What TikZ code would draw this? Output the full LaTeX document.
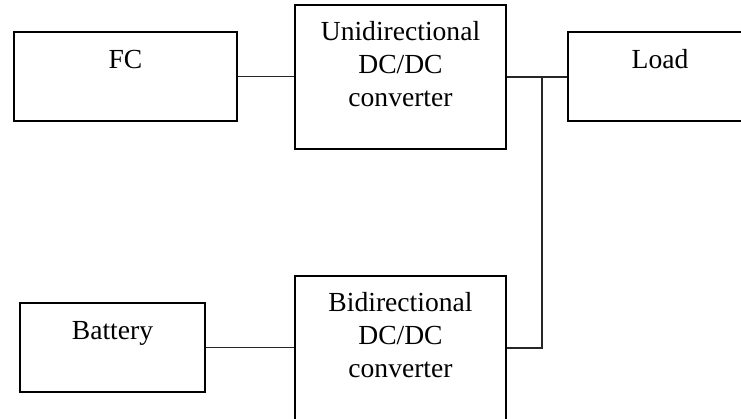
\documentclass[tikz,border=0pt]{standalone}
\usepackage{fontspec}
\setmainfont{Liberation Serif}
\begin{document}
\begin{tikzpicture}[x=0.02cm, y=-0.02cm,
    every node/.style={font=\fontsize{15.7}{18.8}\selectfont},
    unitbox/.style={draw, line width=0.6pt, minimum height=1.78cm, inner sep=0pt},
    convbox/.style={draw, line width=0.6pt, minimum width=4.22cm,
                    minimum height=2.88cm, inner sep=0pt},
    caption/.style={anchor=base, align=center, inner sep=0pt},
    wire/.style={line width=0.6pt, black!85}]
  \useasboundingbox (0,0) rectangle (741,419);
  \clip (0,0) rectangle (741,419);
  % top row
  \node[unitbox, minimum width=4.46cm] (fc) at (125.5,76.5) {};
  \node[caption] (fc-t) at ([yshift=-0.75cm]fc.north) {FC};
  \node[convbox] (uni) at (400.5,77) {};
  % base of a multi-line caption is its last line
  \node[caption] (uni-t) at ([yshift=-2.04cm]uni.north)
      {Unidirectional\\DC/DC\\converter};
  \node[unitbox, minimum width=3.68cm] (load) at (660,76.5) {};
  \node[caption] (load-t) at ([yshift=-0.75cm]load.north) {Load};
  % bottom row
  \node[unitbox, minimum width=3.7cm] (bat) at (112.5,347.5) {};
  \node[caption] (bat-t) at ([yshift=-0.74cm]bat.north) {Battery};
  \node[convbox] (bi) at (400.5,348) {};
  \node[caption] (bi-t) at ([yshift=-2.04cm]bi.north)
      {Bidirectional\\DC/DC\\converter};
  % dc bus
  \coordinate (jn) at (542,77);
  \draw[wire] (fc.east) -- (fc.east -| uni.west);
  \draw[wire] (uni.east) -- (jn) -- (jn -| load.west);
  \draw[wire] (bat.east) -- (bat.east -| bi.west);
  \draw[wire] (bi.east) -| (jn);
\end{tikzpicture}
\end{document}
